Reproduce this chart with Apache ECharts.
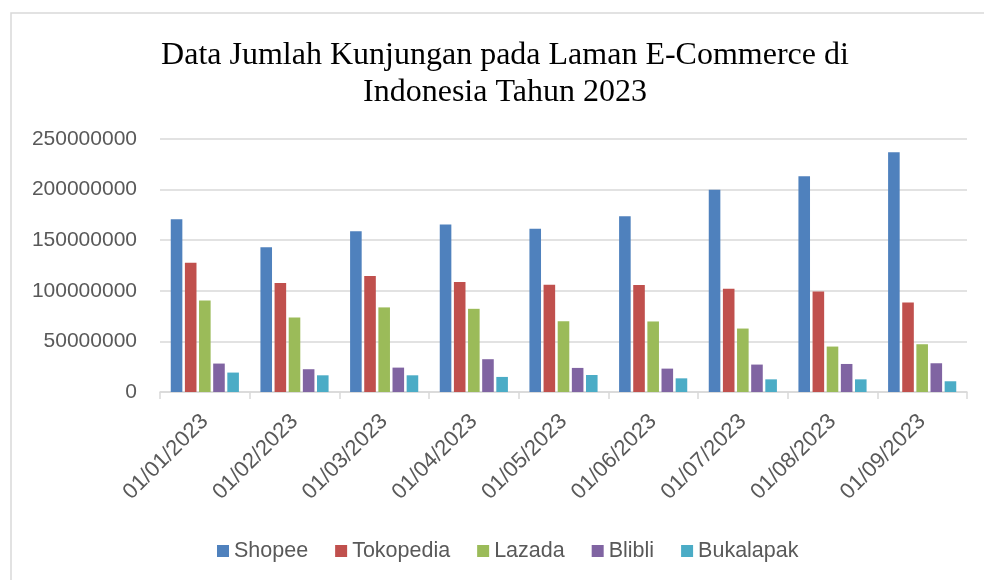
<!DOCTYPE html>
<html>
<head>
<meta charset="utf-8">
<script src="https://cdn.jsdelivr.net/npm/echarts@6/dist/echarts.min.js"></script>
<style>
    html, body { margin: 0; padding: 0; background: #fff; }
    #chart { width: 984px; height: 580px; }
</style>
</head>
<body>
<div id="chart"></div>
<script>
    // months (x axis)
    var months = ['01/01/2023', '01/02/2023', '01/03/2023', '01/04/2023', '01/05/2023',
        '01/06/2023', '01/07/2023', '01/08/2023', '01/09/2023'];

    // visits per site
    var shopee    = [170700000, 143000000, 158900000, 165500000, 161200000, 173700000, 199800000, 213300000, 236800000];
    var tokopedia = [127800000, 107700000, 114600000, 108700000, 106000000, 105700000, 102000000, 99400000, 88500000];
    var lazada    = [90500000, 73600000, 83600000, 82200000, 70000000, 69700000, 62700000, 44900000, 47200000];
    var blibli    = [28100000, 22500000, 24100000, 32400000, 23800000, 23100000, 27100000, 27700000, 28400000];
    var bukalapak = [19200000, 16500000, 16500000, 14900000, 16800000, 13500000, 12500000, 12500000, 10600000];

    var seriesNames = ['Shopee', 'Tokopedia', 'Lazada', 'Blibli', 'Bukalapak'];
    var seriesData = [shopee, tokopedia, lazada, blibli, bukalapak];
    var colors = ['#4f81bd', '#c0504d', '#9bbb59', '#8064a2', '#4bacc6'];

    var labelFont = 'Liberation Sans';

    var chart = echarts.init(document.getElementById('chart'));

    var option = {
        animation: false,
        color: colors,
        title: {
            text: 'Data Jumlah Kunjungan pada Laman E-Commerce di\nIndonesia Tahun 2023',
            left: 500,
            top: 32,
            textAlign: 'center',
            textStyle: {
                fontFamily: 'Liberation Serif',
                fontSize: 32,
                fontWeight: 'normal',
                color: '#000',
                lineHeight: 37
            }
        },
        legend: {
            data: seriesNames,
            left: 212,
            top: 535,
            itemWidth: 12,
            itemHeight: 12,
            itemGap: 27,
            icon: 'rect',
            textStyle: {
                fontFamily: labelFont,
                fontSize: 21.5,
                color: '#595959'
            }
        },
        grid: {
            left: 160,
            right: 17,
            top: 139,
            bottom: 188,
            containLabel: false
        },
        xAxis: {
            type: 'category',
            data: months,
            axisLine: { lineStyle: { color: '#d9d9d9', width: 1.5 } },
            axisTick: { show: true, length: 7, lineStyle: { color: '#d9d9d9', width: 1.5 } },
            axisLabel: {
                rotate: 45,
                margin: 26,
                fontFamily: labelFont,
                fontSize: 22,
                color: '#595959'
            }
        },
        yAxis: {
            type: 'value',
            min: 0,
            max: 250000000,
            interval: 50000000,
            axisLine: { show: false },
            axisTick: { show: false },
            splitLine: { lineStyle: { color: '#d9d9d9', width: 1.5 } },
            axisLabel: {
                margin: 23,
                fontFamily: labelFont,
                fontSize: 21,
                color: '#595959',
                formatter: function (v) { return String(v); }
            }
        },
        graphic: [{
            type: 'rect',
            shape: { x: 11, y: 13, width: 1000, height: 600 },
            style: { fill: 'none', stroke: '#d9d9d9', lineWidth: 1.5 },
            silent: true
        }],
        series: seriesNames.map(function (name, i) {
            return {
                name: name,
                type: 'bar',
                data: seriesData[i],
                barGap: '22%',
                barCategoryGap: '24%',
                itemStyle: { color: colors[i] }
            };
        })
    };

    chart.setOption(option);
</script>
</body>
</html>
